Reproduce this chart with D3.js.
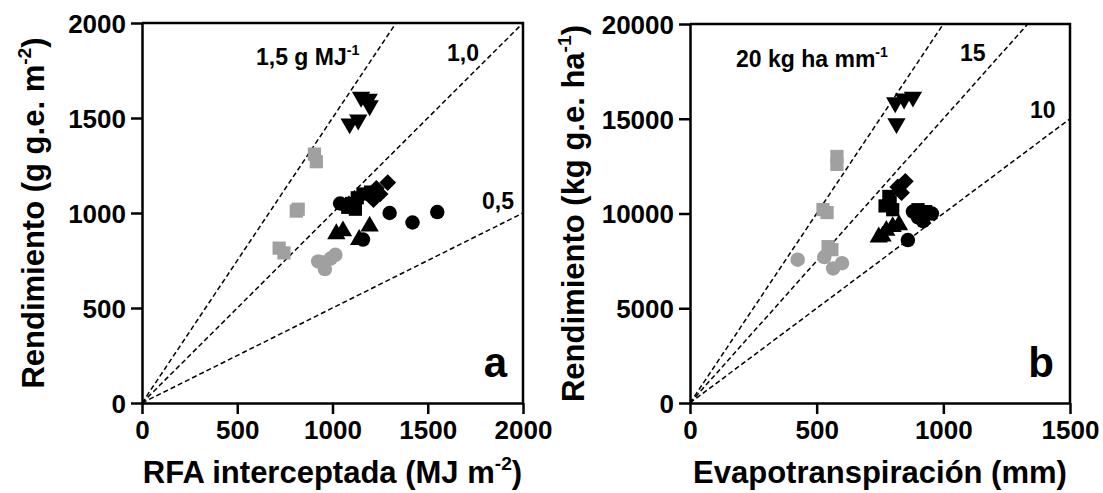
<!DOCTYPE html>
<html>
<head>
<meta charset="utf-8">
<script src="https://cdn.jsdelivr.net/npm/d3@7"></script>
<style>
  body { margin: 0; background: #fff; }
  svg { display: block; font-family: "Liberation Sans", Arial, sans-serif; font-weight: bold; }
</style>
</head>
<body>
<svg id="chart" width="1103" height="493"></svg>
<script>
var svg = d3.select("#chart");

var GRAY = "#a0a0a0";

// panel a: RFA interceptada (MJ m-2) vs rendimiento (g m-2)
var aTicksX = [0, 500, 1000, 1500, 2000];
var aTicksY = [0, 500, 1000, 1500, 2000];
var aSlopes = [1.5, 1.0, 0.5];
var aDownTri = [[1150, 1610], [1190, 1600], [1195, 1565], [1090, 1470], [1135, 1490]];
var aGraySq = [[905, 1310], [915, 1270], [810, 1010], [820, 1020], [720, 815], [745, 790]];
var aGrayCirc = [[925, 745], [960, 705], [990, 760], [1015, 780], [950, 740]];
var aCirc = [[1040, 1050], [1300, 1000], [1420, 950], [1550, 1005], [1160, 860], [1090, 1040]];
var aTri = [[1020, 890], [1055, 905], [1140, 860], [1195, 930]];
var aSq = [[1100, 1050], [1130, 1080], [1160, 1100], [1200, 1110], [1120, 1020], [1080, 1030]];
var aDiam = [[1290, 1160], [1250, 1100], [1215, 1070], [1230, 1130]];

// panel b: evapotranspiracion (mm) vs rendimiento (kg ha-1)
var bTicksX = [0, 500, 1000, 1500];
var bTicksY = [0, 5000, 10000, 15000, 20000];
var bSlopes = [20, 15, 10];
var bDownTri = [[810, 15850], [845, 16050], [880, 16150], [815, 14750]];
var bGraySq = [[580, 13010], [580, 12590], [525, 10210], [541, 10050], [545, 8250], [560, 8090]];
var bGrayCirc = [[425, 7560], [530, 7700], [565, 7100], [600, 7380]];
var bCirc = [[955, 10000], [900, 9800], [860, 8600], [920, 9600], [880, 10100]];
var bTri = [[745, 8750], [775, 9100], [800, 9300], [825, 9400], [760, 8800]];
var bSq = [[785, 10900], [770, 10400], [800, 10200], [900, 10200], [930, 10100], [790, 10600]];
var bDiam = [[850, 11700], [820, 11400], [835, 11100]];

(function main() {
  drawPanel({
    left: 142, right: 523, top: 23, bottom: 403,
    xMax: 2000, yMax: 2000, ticksX: aTicksX, ticksY: aTicksY, slopes: aSlopes,
    series: [
      [aGraySq, "square", GRAY], [aGrayCirc, "circle", GRAY],
      [aSq, "square", "#000"], [aDiam, "diamond", "#000"], [aCirc, "circle", "#000"],
      [aTri, "up", "#000"], [aDownTri, "down", "#000"]
    ],
    xTitle: ["RFA interceptada (MJ m", "-2", ")"],
    yTitle: ["Rendimiento (g g.e. m", "-2", ")"],
    yTitleX: 44,
    letter: "a",
    labels: [
      { x: 256, y: 65, parts: ["1,5 g MJ", "-1", ""] },
      { x: 447, y: 61, parts: ["1,0", "", ""] },
      { x: 482, y: 209, parts: ["0,5", "", ""] }
    ]
  });
  drawPanel({
    left: 690, right: 1070, top: 24, bottom: 403,
    xMax: 1500, yMax: 20000, ticksX: bTicksX, ticksY: bTicksY, slopes: bSlopes,
    series: [
      [bGraySq, "square", GRAY], [bGrayCirc, "circle", GRAY],
      [bSq, "square", "#000"], [bDiam, "diamond", "#000"], [bCirc, "circle", "#000"],
      [bTri, "up", "#000"], [bDownTri, "down", "#000"]
    ],
    xTitle: ["Evapotranspiración (mm)", "", ""],
    yTitle: ["Rendimiento (kg g.e. ha", "-1", ")"],
    yTitleX: 584,
    letter: "b",
    labels: [
      { x: 736, y: 67, parts: ["20 kg ha mm", "-1", ""] },
      { x: 960, y: 61, parts: ["15", "", ""] },
      { x: 1030, y: 118, parts: ["10", "", ""] }
    ]
  });
})();

function supText(sel, parts, size) {
  sel.append("tspan").text(parts[0]);
  if (parts[1]) {
    sel.append("tspan").attr("dy", -size * 0.42).style("font-size", (size * 0.62) + "px").text(parts[1]);
    sel.append("tspan").attr("dy", size * 0.42).text(parts[2]);
  } else if (parts[2]) {
    sel.append("tspan").text(parts[2]);
  }
}

function drawPanel(c) {
  var x = d3.scaleLinear().domain([0, c.xMax]).range([c.left, c.right]);
  var y = d3.scaleLinear().domain([0, c.yMax]).range([c.bottom, c.top]);
  var g = svg.append("g");

  // reference lines through origin
  c.slopes.forEach(function(k) {
    var xe = Math.min(c.xMax, c.yMax / k);
    g.append("line")
      .attr("x1", x(0)).attr("y1", y(0))
      .attr("x2", x(xe)).attr("y2", y(k * xe))
      .attr("stroke", "#000")
      .attr("stroke-width", 1.5)
      .attr("stroke-dasharray", "5,3");
  });

  // points
  var shapes = {
    circle: [d3.symbolCircle, 165, 0],
    square: [d3.symbolSquare, 175, 0],
    diamond: [d3.symbolSquare, 140, 45],
    up: [d3.symbolTriangle, 145, 0],
    down: [d3.symbolTriangle, 145, 180]
  };
  c.series.forEach(function(s) {
    var sh = shapes[s[1]];
    g.selectAll(null).data(s[0]).enter().append("path")
      .attr("d", d3.symbol().type(sh[0]).size(sh[1]))
      .attr("transform", function(d) {
        return "translate(" + x(d[0]) + "," + y(d[1]) + ") rotate(" + sh[2] + ")";
      })
      .attr("fill", s[2]);
  });

  // axes
  var ax = g.append("g").attr("transform", "translate(0," + c.bottom + ")")
    .call(d3.axisBottom(x).tickValues(c.ticksX).tickSize(11).tickSizeOuter(0).tickPadding(7).tickFormat(d3.format("d")));
  var ay = g.append("g").attr("transform", "translate(" + c.left + ",0)")
    .call(d3.axisLeft(y).tickValues(c.ticksY).tickSize(11).tickSizeOuter(0).tickPadding(5).tickFormat(d3.format("d")));
  [ax, ay].forEach(function(a) {
    a.selectAll("path, line").attr("stroke", "#000").attr("stroke-width", 2.5);
    a.selectAll("text").attr("fill", "#000").style("font-size", "26px").style("font-family", "Liberation Sans, Arial").style("font-weight", "bold");
  });
  ay.selectAll("text").attr("dy", "0.36em");

  // box top / right
  g.append("path")
    .attr("d", "M" + c.left + "," + c.top + "H" + c.right + "V" + c.bottom)
    .attr("fill", "none").attr("stroke", "#000").attr("stroke-width", 2.5);

  // titles
  var xt = g.append("text")
    .attr("x", (c.left + c.right) / 2).attr("y", 483)
    .attr("text-anchor", "middle")
    .style("font-size", "31px");
  supText(xt, c.xTitle, 31);

  var yt = g.append("text")
    .attr("transform", "translate(" + c.yTitleX + "," + (c.top + c.bottom) / 2 + ") rotate(-90)")
    .attr("text-anchor", "middle")
    .style("font-size", "31px");
  supText(yt, c.yTitle, 31);

  c.labels.forEach(function(l) {
    var t = g.append("text").attr("x", l.x).attr("y", l.y).style("font-size", "23px");
    supText(t, l.parts, 23);
  });

  g.append("text")
    .attr("x", c.right - 16).attr("y", c.bottom - 26)
    .attr("text-anchor", "end")
    .style("font-size", "42px")
    .text(c.letter);
}
</script>
</body>
</html>
